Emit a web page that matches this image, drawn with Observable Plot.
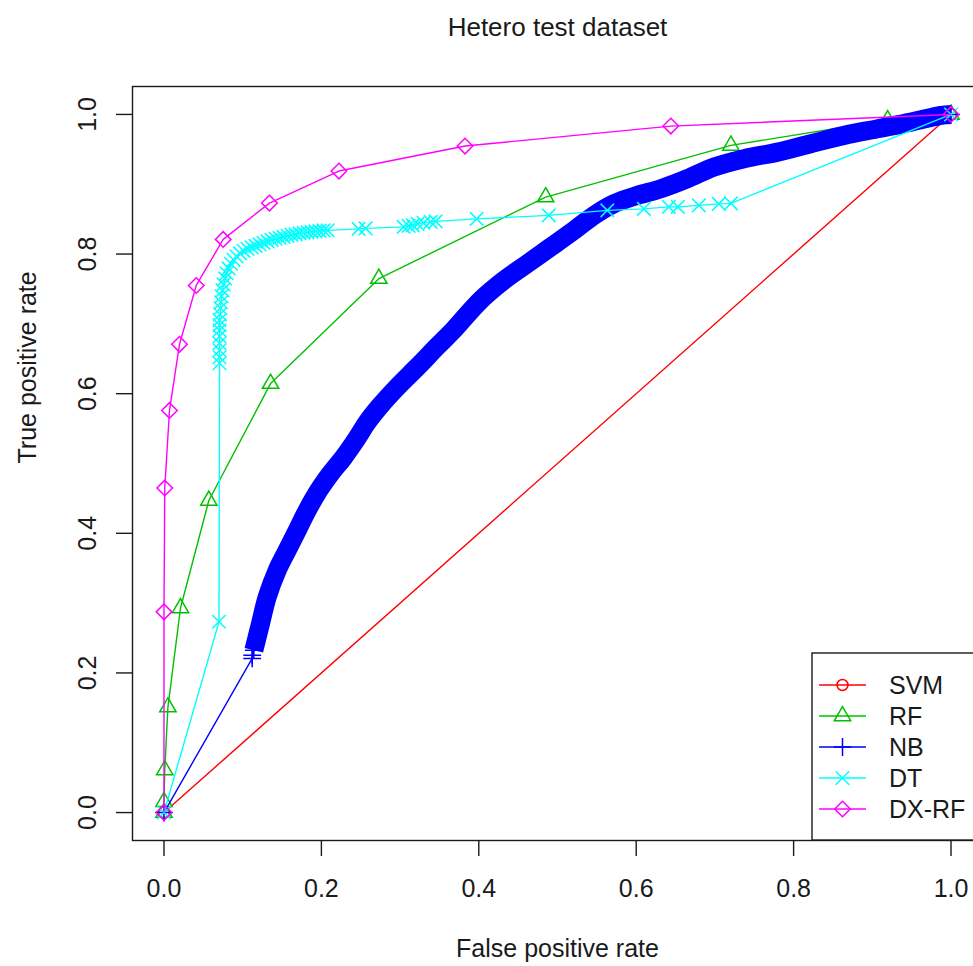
<!DOCTYPE html>
<html><head><meta charset="utf-8">
<script src="https://cdn.jsdelivr.net/npm/d3@7"></script>
<script src="https://cdn.jsdelivr.net/npm/@observablehq/plot@0.6"></script>
<style>
html,body{margin:0;padding:0;background:#fff;overflow:hidden;}
#chart{width:973px;height:966px;overflow:hidden;}
</style></head><body><div id="chart"></div>
<script>
// ---- text ----
const chartTitle = "Hetero test dataset";
const xLabel = "False positive rate";
const yLabel = "True positive rate";
const xTicks = [0, 0.2, 0.4, 0.6, 0.8, 1.0];
const yTicks = [0, 0.2, 0.4, 0.6, 0.8, 1.0];

// ---- series ----
const seriesNames = ["SVM", "RF", "NB", "DT", "DX-RF"];

const svmFpr = [0, 1];
const svmTpr = [0, 1];

const rfFpr = [0, 0, 0.001, 0.005, 0.021, 0.057, 0.1354, 0.273, 0.485, 0.7203, 0.9195, 1];
const rfTpr = [0, 0.0155, 0.061, 0.151, 0.293, 0.447, 0.6145, 0.7648, 0.8816, 0.9556, 0.992, 1];

const nbFpr = [0, 0.1121, 0.1121, 0.1142, 0.1227, 0.1312, 0.1439, 0.1566, 0.1694, 0.1821, 0.1968,
  0.2117, 0.2286, 0.2435, 0.2584, 0.2753, 0.2965, 0.3219, 0.3474, 0.3685, 0.4024, 0.4320, 0.4618,
  0.4914, 0.5210, 0.5465, 0.5719, 0.6017, 0.6313, 0.6652, 0.6990, 0.7372, 0.7797, 0.8220, 0.8643,
  0.9068, 0.9491, 0.9873, 1];
const nbTpr = [0, 0.2208, 0.2255, 0.2326, 0.2709, 0.3090, 0.3472, 0.3758, 0.4045, 0.4331, 0.4617,
  0.4856, 0.5094, 0.5333, 0.5595, 0.5834, 0.6096, 0.6382, 0.6680, 0.6920, 0.7340, 0.7624, 0.7863,
  0.8100, 0.8339, 0.8554, 0.8722, 0.8841, 0.8936, 0.9080, 0.9246, 0.9366, 0.9460, 0.9581, 0.9700,
  0.9795, 0.9890, 0.9986, 1];

const dtFpr = [0, 0.0699, 0.0706, 0.0706, 0.0706, 0.0706, 0.0706, 0.0706, 0.0706, 0.0706, 0.0712,
  0.0718, 0.0725, 0.0731, 0.0744, 0.0757, 0.0776, 0.0795, 0.0820, 0.0852, 0.0884, 0.0922, 0.0966,
  0.1011, 0.1062, 0.1113, 0.1163, 0.1214, 0.1265, 0.1316, 0.1367, 0.1418, 0.1469, 0.1519, 0.1570,
  0.1621, 0.1672, 0.1723, 0.1774, 0.1825, 0.1875, 0.1926, 0.1977, 0.2028, 0.2079, 0.2473, 0.2562,
  0.3045, 0.3109, 0.3160, 0.3223, 0.3299, 0.3389, 0.3452, 0.3973, 0.4889, 0.5633, 0.6097, 0.6415,
  0.6529, 0.6796, 0.7050, 0.7203, 1];
const dtTpr = [0, 0.2732, 0.6435, 0.6521, 0.6621, 0.6722, 0.6822, 0.6908, 0.6979, 0.7051, 0.7137,
  0.7223, 0.7309, 0.7395, 0.7480, 0.7566, 0.7652, 0.7724, 0.7795, 0.7860, 0.7917, 0.7967, 0.8010,
  0.8046, 0.8074, 0.8096, 0.8117, 0.8139, 0.8160, 0.8182, 0.8203, 0.8218, 0.8232, 0.8246, 0.8261,
  0.8275, 0.8282, 0.8296, 0.8304, 0.8311, 0.8318, 0.8325, 0.8332, 0.8339, 0.8339, 0.8361, 0.8368,
  0.8389, 0.8404, 0.8411, 0.8432, 0.8447, 0.8461, 0.8468, 0.8504, 0.8554, 0.8626, 0.8647, 0.8676,
  0.8676, 0.8697, 0.8719, 0.8726, 1];

const dxrfFpr = [0, 0, 0.001, 0.007, 0.0197, 0.041, 0.0752, 0.134, 0.2223, 0.3825, 0.644, 1];
const dxrfTpr = [0, 0.2875, 0.465, 0.576, 0.6707, 0.755, 0.821, 0.873, 0.9189, 0.9547, 0.9833, 1];

// ---- style (not data) ----
const styles = {
  "SVM":   {color: "#FF0000", symbol: "circle",    d3sym: d3.symbolCircle,    r: 5.5},
  "RF":    {color: "#00C000", symbol: "triangle2", d3sym: d3.symbolTriangle2, r: 7.8},
  "NB":    {color: "#0000FF", symbol: "plus",      d3sym: d3.symbolPlus,      r: 5.8},
  "DT":    {color: "#00FFFF", symbol: "times",     d3sym: d3.symbolTimes,     r: 6.2},
  "DX-RF": {color: "#FF00FF", symbol: "diamond2",  d3sym: d3.symbolDiamond2,  r: 7.0}
};
const ink = "#1a1a1a";
const font = "'Liberation Sans', Arial, Helvetica, sans-serif";

const rows = (fpr, tpr) => fpr.map((x, i) => ({fpr: x, tpr: tpr[i]}));
const seriesData = {
  "SVM": rows(svmFpr, svmTpr),
  "RF": rows(rfFpr, rfTpr),
  "NB": rows(nbFpr, nbTpr),
  "DT": rows(dtFpr, dtTpr),
  "DX-RF": rows(dxrfFpr, dxrfTpr)
};

const marks = [];
for (const name of seriesNames) {
  const st = styles[name];
  const data = seriesData[name];
  if (name === "NB") {
    // dense run of "+" markers forms a thick band
    marks.push(Plot.line(data.slice(3), {x: "fpr", y: "tpr", stroke: st.color, strokeWidth: 19,
      curve: "catmull-rom", strokeLinejoin: "round", strokeLinecap: "butt"}));
  }
  marks.push(Plot.line(data, {x: "fpr", y: "tpr", stroke: st.color, strokeWidth: 1.4}));
  marks.push(Plot.dot(data, {x: "fpr", y: "tpr", symbol: st.symbol, r: st.r, stroke: st.color,
    fill: "none", strokeWidth: 1.5}));
}

const fmt = d3.format(".1f");
const plot = Plot.plot({
  width: 973,
  height: 966,
  marginLeft: 132,
  marginRight: -9,
  marginTop: 86,
  marginBottom: 126,
  style: {fontFamily: font, fontSize: "25px", color: ink, background: "#fff"},
  x: {domain: [-0.04, 1.04]},
  y: {domain: [-0.04, 1.04]},
  marks: [
    ...marks,
    Plot.frame({stroke: ink, strokeWidth: 1.4}),
    Plot.axisX({ticks: xTicks, tickSize: 16, tickPadding: 23, tickFormat: fmt, label: null,
      fontSize: 25, stroke: ink, strokeWidth: 1.4, fill: ink}),
    Plot.axisY({ticks: yTicks, tickSize: 16, tickPadding: 21, tickRotate: -90, tickFormat: fmt,
      label: null, fontSize: 25, stroke: ink, strokeWidth: 1.4, fill: ink}),
    Plot.text([chartTitle], {text: d => d, frameAnchor: "top", dy: -59, lineAnchor: "middle",
      fontSize: 26, fill: ink}),
    Plot.text([xLabel], {text: d => d, frameAnchor: "bottom", dy: 108, lineAnchor: "middle",
      fontSize: 25, fill: ink}),
    Plot.text([yLabel], {text: d => d, frameAnchor: "left", dx: -105, rotate: -90,
      lineAnchor: "middle", fontSize: 25, fill: ink})
  ]
});
document.getElementById("chart").appendChild(plot);

// ---- legend (R-style box, bottom right) ----
const svg = d3.select(plot);
const lg = svg.append("g").attr("font-family", font).attr("font-size", 25)
  .attr("text-anchor", "start").style("font-size", "25px");
lg.append("rect").attr("x", 812).attr("y", 653).attr("width", 200).attr("height", 187)
  .attr("fill", "#fff").attr("stroke", ink).attr("stroke-width", 1.4);
seriesNames.forEach((name, i) => {
  const st = styles[name];
  const cy = 685 + i * 31;
  lg.append("line").attr("x1", 819).attr("x2", 866).attr("y1", cy).attr("y2", cy)
    .attr("stroke", st.color).attr("stroke-width", 1.4);
  lg.append("path").attr("transform", `translate(842.5,${cy})`)
    .attr("d", d3.symbol(st.d3sym, Math.PI * st.r * st.r)())
    .attr("fill", "none").attr("stroke", st.color).attr("stroke-width", 1.5);
  lg.append("text").attr("x", 889).attr("y", cy).attr("dy", "0.36em")
    .attr("text-anchor", "start").attr("fill", ink).text(name);
});
</script></body></html>
